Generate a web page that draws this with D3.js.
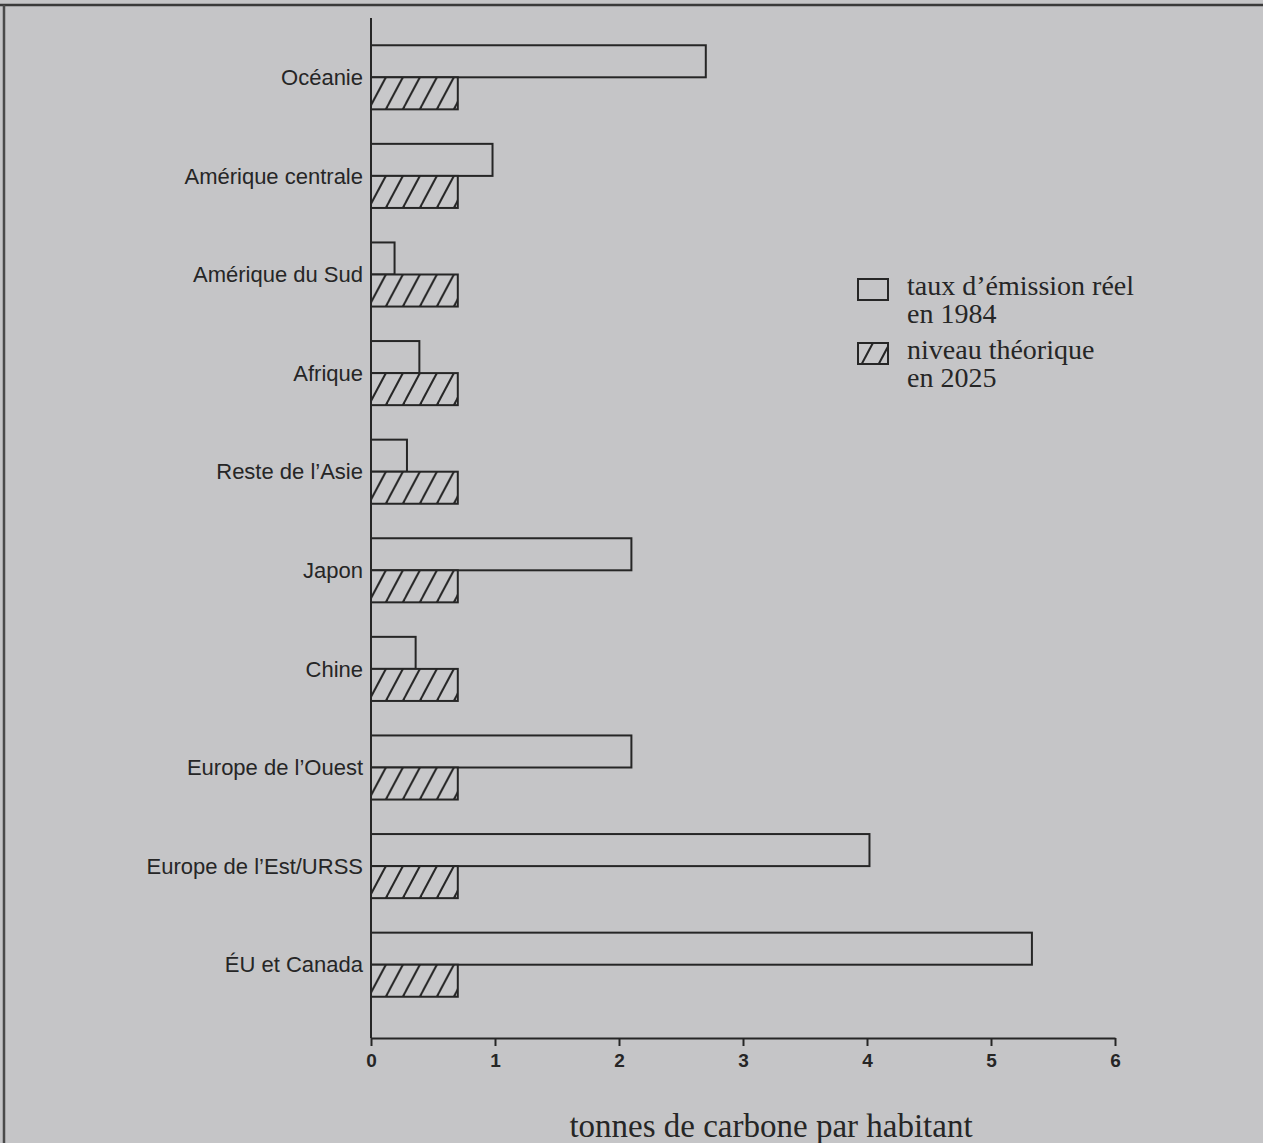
<!DOCTYPE html>
<html>
<head>
<meta charset="utf-8">
<script src="https://cdn.jsdelivr.net/npm/d3@7"></script>
<style>
  body { margin: 0; background: #c5c5c7; }
  svg { display: block; }
  .x-axis text { font-family: 'Liberation Sans', Arial, sans-serif; font-weight: bold; font-size: 19px; }
</style>
</head>
<body>
<div id="chart"></div>
<script>
// data (tonnes de carbone par habitant)
var regions = ["Océanie", "Amérique centrale", "Amérique du Sud", "Afrique",
  "Reste de l\u2019Asie", "Japon", "Chine", "Europe de l\u2019Ouest",
  "Europe de l\u2019Est/URSS", "ÉU et Canada"];
var reel1984 = [2.70, 0.98, 0.19, 0.39, 0.29, 2.10, 0.36, 2.10, 4.02, 5.33];
var theorique2025 = [0.70, 0.70, 0.70, 0.70, 0.70, 0.70, 0.70, 0.70, 0.70, 0.70];
var xTicks = [0, 1, 2, 3, 4, 5, 6];
var legendLabels = [["taux d\u2019émission réel", "en 1984"], ["niveau théorique", "en 2025"]];
var axisTitle = "tonnes de carbone par habitant";

var W = 1263, H = 1143;
var margin = {top: 28, right: 148, bottom: 105, left: 371},
    width = W - margin.left - margin.right,
    height = H - margin.top - margin.bottom;

var ink = "#262626";

var svg = d3.select("#chart")
  .append("svg")
    .attr("width", W)
    .attr("height", H);

// scanned page frame
svg.append("line").attr("x1", 0).attr("x2", W).attr("y1", 5).attr("y2", 5)
  .attr("stroke", "#3a3a3a").attr("stroke-width", 2.5);
svg.append("line").attr("x1", 4).attr("x2", 4).attr("y1", 5).attr("y2", H)
  .attr("stroke", "#4a4a4a").attr("stroke-width", 2.5);

// hatch pattern
var defs = svg.append("defs");
var pat = defs.append("pattern")
  .attr("id", "hatch")
  .attr("patternUnits", "userSpaceOnUse")
  .attr("width", 17).attr("height", 32)
  .attr("y", margin.top);
pat.append("rect").attr("width", 17).attr("height", 32).attr("fill", "#c8c8ca");
pat.append("line").attr("x1", 0).attr("y1", 32).attr("x2", 17).attr("y2", 0)
  .attr("stroke", ink).attr("stroke-width", 2);
pat.append("line").attr("x1", -3).attr("y1", 5.6).attr("x2", 3).attr("y2", -5.6)
  .attr("stroke", ink).attr("stroke-width", 2);
pat.append("line").attr("x1", 14).attr("y1", 37.6).attr("x2", 20).attr("y2", 26.4)
  .attr("stroke", ink).attr("stroke-width", 2);

var chart = svg.append("g")
  .attr("transform", "translate(" + margin.left + "," + margin.top + ")");

var x = d3.scaleLinear()
  .domain([0, 6])
  .range([0, 744]);

var y = d3.scaleBand()
  .domain(regions)
  .range([0, height - 24])
  .paddingInner(0.35)
  .paddingOuter(0.175);

var series = ["1984", "2025"];
var ySub = d3.scaleBand()
  .domain(series)
  .range([0, y.bandwidth()]);

var rows = regions.map(function(r, i) {
  return {region: r, values: [reel1984[i], theorique2025[i]]};
});

// bars
var groups = chart.selectAll("g.row")
  .data(rows)
  .enter().append("g")
    .attr("class", "row")
    .attr("transform", function(d) { return "translate(0," + y(d.region) + ")"; });

groups.selectAll("rect")
  .data(function(d) { return d.values.map(function(v, j) { return {s: series[j], v: v}; }); })
  .enter().append("rect")
    .attr("x", x(0))
    .attr("y", function(d) { return ySub(d.s); })
    .attr("width", function(d) { return x(d.v) - x(0); })
    .attr("height", ySub.bandwidth())
    .attr("fill", function(d) { return d.s === "1984" ? "none" : "url(#hatch)"; })
    .attr("stroke", ink)
    .attr("stroke-width", 2);

// category labels
chart.selectAll("text.cat")
  .data(regions)
  .enter().append("text")
    .attr("class", "cat")
    .attr("x", -8)
    .attr("y", function(d) { return y(d) + y.bandwidth() / 2; })
    .attr("dy", "0.35em")
    .attr("text-anchor", "end")
    .style("font-family", "'Liberation Sans', Arial, sans-serif")
    .style("font-size", "22px")
    .attr("fill", ink)
    .text(function(d) { return d; });

// y axis line
chart.append("line")
  .attr("x1", x(0)).attr("x2", x(0))
  .attr("y1", -10).attr("y2", height)
  .attr("stroke", ink).attr("stroke-width", 2);

// x axis
var xAxis = chart.append("g")
  .attr("class", "x-axis")
  .attr("transform", "translate(0," + height + ")")
  .call(d3.axisBottom(x).tickValues(xTicks).tickSize(8).tickSizeOuter(0).tickPadding(8)
    .tickFormat(d3.format("d")));
xAxis.attr("font-size", 19).attr("font-family", null);
xAxis.select(".domain").attr("stroke", ink).attr("stroke-width", 2);
xAxis.selectAll(".tick line").attr("stroke", ink).attr("stroke-width", 2);
xAxis.selectAll(".tick text").attr("fill", ink);

// axis title
chart.append("text")
  .attr("x", x(3) + 28)
  .attr("y", height + 99)
  .attr("text-anchor", "middle")
  .style("font-family", "'Liberation Serif', 'Times New Roman', serif")
  .style("font-size", "33px")
  .attr("fill", ink)
  .text(axisTitle);

// legend
var legend = chart.selectAll("g.legend")
  .data(legendLabels)
  .enter().append("g")
    .attr("class", "legend")
    .attr("transform", function(d, i) { return "translate(" + (x(4) - 9) + "," + (251 + i * 64) + ")"; });

legend.append("rect")
  .attr("width", 30).attr("height", 21)
  .attr("fill", function(d, i) { return i === 0 ? "none" : "url(#hatch)"; })
  .attr("stroke", ink)
  .attr("stroke-width", 2);

legend.selectAll("text")
  .data(function(d) { return d; })
  .enter().append("text")
    .attr("x", 49)
    .attr("y", function(d, j) { return 16 + j * 28; })
    .style("font-family", "'Liberation Serif', 'Times New Roman', serif")
    .style("font-size", "28px")
    .attr("fill", ink)
    .text(function(d) { return d; });
</script>
</body>
</html>
